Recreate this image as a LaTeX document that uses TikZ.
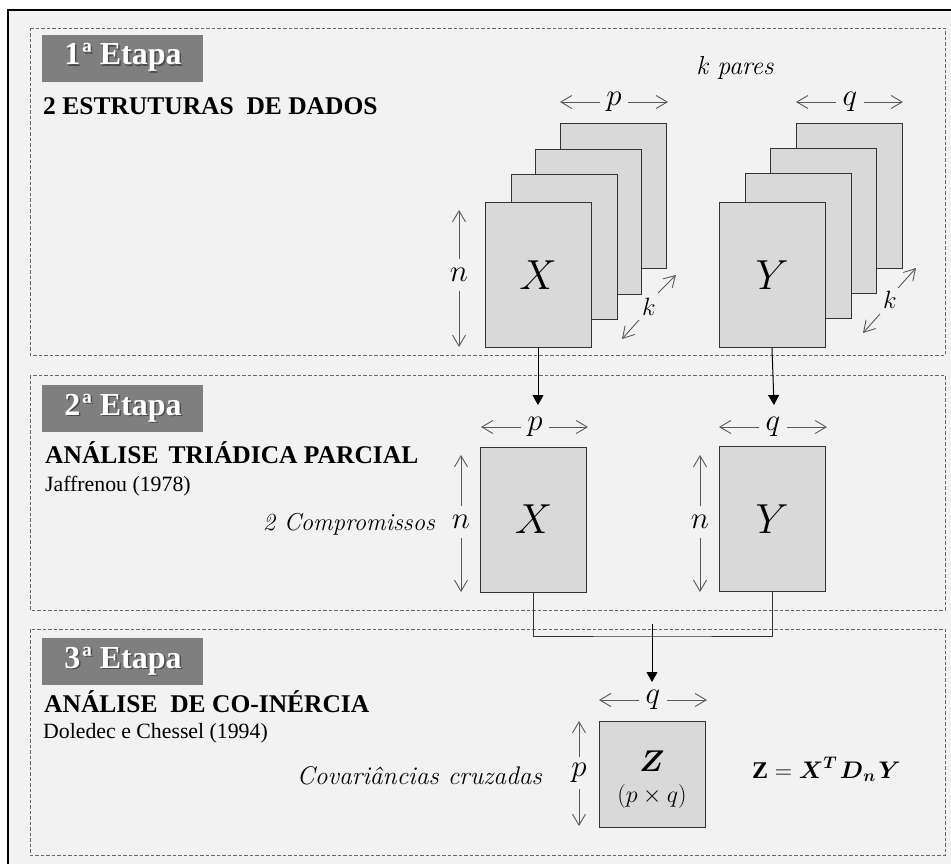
\RequirePackage{fix-cm}
\documentclass[tikz,border=0pt]{standalone}
\usepackage{amsmath}
\usepackage{fontspec}
\setmainfont{Liberation Serif}
\usetikzlibrary{arrows.meta}
\definecolor{bgc}{HTML}{F2F2F2}
\definecolor{matc}{HTML}{D9D9D9}
\definecolor{etc}{HTML}{7F7F7F}
\definecolor{dimc}{HTML}{595959}
\newcommand\itf{\fontfamily{lmr}\fontshape{it}\selectfont}
\newcommand\fsz[1]{\fontsize{#1}{#1}\selectfont}
\newcommand\shtxt[1]{\makebox[0pt][l]{\raisebox{-1.5pt}{\hspace{1.5pt}\color{black!70}#1}}\color{white}#1}
\begin{document}
\begin{tikzpicture}[x=1pt,y=-1pt,
  dbox/.style={draw=black!60, line width=0.9pt, dash pattern=on 3.5pt off 2pt},
  etapabox/.style={fill=etc, minimum width=161pt, minimum height=47pt, inner sep=0pt},
  etapatxt/.style={inner sep=0pt, font=\fsz{32}\bfseries},
  head/.style={anchor=base west, inner sep=0pt, font=\fsz{25.5}\bfseries},
  sub/.style={anchor=base west, inner sep=0pt, font=\fsz{21.8}},
  itlbl/.style={inner sep=0pt, font=\itf\fsz{25.5}},
  mat/.style={draw=black!80, fill=matc, line width=0.9pt, minimum width=106pt, minimum height=145pt, inner sep=0pt, font=\fsz{42}},
  dimlbl/.style={inner sep=0pt, minimum width=28pt, minimum height=32pt, font=\fsz{31}},
  klbl/.style={inner sep=0pt, font=\fsz{25}},
  dimarr/.style={draw=dimc, line width=0.9pt, -{Straight Barb[length=11pt,width=13pt,line width=0.9pt]}},
  flow/.style={draw=black, line width=1pt, -{Triangle[length=10pt,width=11pt]}},
  conn/.style={draw=black!80, line width=1pt}
]
\useasboundingbox (0,0) rectangle (951,864);
\fill[white] (0,0) rectangle (951,864);
\fill[bgc] (8,10) rectangle (951,864);
\draw[line width=1.3pt] (8,864) -- (8,10) -- (951,10);

% stage frames
\draw[dbox] (30,28) rectangle (945,355);
\draw[dbox] (30,375) rectangle (945,610);
\draw[dbox] (30,629) rectangle (945,855);

% etapa labels
\node[etapabox] (e1) at (122.5,58.5) {};
\node[etapatxt, anchor=base] (e1t) at (123,65) {\shtxt{1\kern2ptª Etapa}};
\node[etapabox] (e2) at (122.5,408.5) {};
\node[etapatxt, anchor=base] (e2t) at (123,415) {\shtxt{2\kern2ptª Etapa}};
\node[etapabox] (e3) at (122.5,661.5) {};
\node[etapatxt, anchor=base] (e3t) at (123,668) {\shtxt{3\kern2ptª Etapa}};

% headings
\node[head] (h1) at (43,115) {2 ESTRUTURAS \ DE DADOS};
\node[head] (h2) at (45,463) {ANÁLISE\hspace{0.4em}TRIÁDICA PARCIAL};
\node[sub] (s2) at (45,491) {Jaffrenou (1978)};
\node[head] (h3) at (44,712) {ANÁLISE \ DE CO-INÉRCIA};
\node[sub] (s3) at (43,738) {Doledec e Chessel (1994)};

% italic labels
\node[itlbl, anchor=base, font=\itf\fsz{26}] (kp) at (735,75) {k pares};
\node[itlbl, anchor=base east, font=\itf\fsz{24.5}] (comp) at (435,530) {2 Compromissos};
\node[itlbl, anchor=base east] (cov) at (542,784) {Covariâncias cruzadas};

% stage 1 stacks
\node[mat] (X1d) at (613.5,196) {};
\node[mat] (X1c) at (588,221.5) {};
\node[mat] (X1b) at (564,246.5) {};
\node[mat] (X1) at (538,275) {$X$};
\node[mat] (Y1d) at (849,196) {};
\node[mat] (Y1c) at (823,221) {};
\node[mat] (Y1b) at (798,246) {};
\node[mat] (Y1) at (772,275) {$Y$};

% stage 1 dimensions
\node[dimlbl] (p1) at (614,102) {$p$};
\coordinate (p1l) at (560,102); \coordinate (p1r) at (668,102);
\draw[dimarr] (p1.west) -- (p1l); \draw[dimarr] (p1.east) -- (p1r);
\node[dimlbl] (q1) at (850,102) {$q$};
\coordinate (q1l) at (796,102); \coordinate (q1r) at (903,102);
\draw[dimarr] (q1.west) -- (q1l); \draw[dimarr] (q1.east) -- (q1r);
\node[dimlbl] (n1) at (459,275) {$n$};
\coordinate (n1t) at (459,210); \coordinate (n1b) at (459,347);
\draw[dimarr] (n1.north) -- (n1t); \draw[dimarr] (n1.south) -- (n1b);

\node[klbl] (k1) at (649,307) {$k$};
\coordinate (k1a) at (658,293); \coordinate (k1at) at (676,275);
\coordinate (k1b) at (639,320); \coordinate (k1bt) at (622,339);
\draw[dimarr] (k1a) -- (k1at); \draw[dimarr] (k1b) -- (k1bt);
\node[klbl] (k2) at (890,300) {$k$};
\coordinate (k2a) at (898,288); \coordinate (k2at) at (916,268);
\coordinate (k2b) at (880,314); \coordinate (k2bt) at (863,333);
\draw[dimarr] (k2a) -- (k2at); \draw[dimarr] (k2b) -- (k2bt);

% stage 2
\node[mat] (X2) at (533.5,519.5) {$X$};
\node[mat] (Y2) at (772,519) {$Y$};
\node[dimlbl] (p2) at (535,427) {$p$};
\coordinate (p2l) at (481,427); \coordinate (p2r) at (588,427);
\draw[dimarr] (p2.west) -- (p2l); \draw[dimarr] (p2.east) -- (p2r);
\node[dimlbl] (q2) at (773,427) {$q$};
\coordinate (q2l) at (719,427); \coordinate (q2r) at (827,427);
\draw[dimarr] (q2.west) -- (q2l); \draw[dimarr] (q2.east) -- (q2r);
\node[dimlbl] (n2) at (461,522) {$n$};
\coordinate (n2t) at (461,455); \coordinate (n2b) at (461,592);
\draw[dimarr] (n2.north) -- (n2t); \draw[dimarr] (n2.south) -- (n2b);
\node[dimlbl] (n3) at (700,522) {$n$};
\coordinate (n3t) at (700,455); \coordinate (n3b) at (700,592);
\draw[dimarr] (n3.north) -- (n3t); \draw[dimarr] (n3.south) -- (n3b);

% flow 1 -> 2
\coordinate (tX) at (538,405); \coordinate (tY) at (774,405);
\draw[flow] (X1.south) -- (tX);
\draw[flow] (Y1.south) -- (tY);

% stage 3
\node[mat, minimum height=106pt] (Zb) at (652,774) {};
\node[inner sep=0pt, font=\fsz{30}] (Zl) at (652,761) {$\boldsymbol{Z}$};
\node[inner sep=0pt, font=\fsz{24}] (Zd) at (652,796) {$(p\times q)$};
\node[dimlbl] (q3) at (653,700) {$q$};
\coordinate (q3l) at (599,700); \coordinate (q3r) at (707,700);
\draw[dimarr] (q3.west) -- (q3l); \draw[dimarr] (q3.east) -- (q3r);
\node[dimlbl] (p3) at (579,773) {$p$};
\coordinate (p3t) at (579,721); \coordinate (p3b) at (579,826);
\draw[dimarr] (p3.north) -- (p3t); \draw[dimarr] (p3.south) -- (p3b);
\node[anchor=base west, inner sep=0pt, font=\fsz{24}] (form) at (752,778)
  {$\mathbf{Z}=\boldsymbol{X}^{\boldsymbol{T}}\mkern2mu\boldsymbol{D}_{\boldsymbol{n}}\mkern2mu\boldsymbol{Y}$};

% flow 2 -> 3
\coordinate (jn) at (652,636);
\coordinate (js) at (652,624);
\coordinate (tZ) at (652,682);
\draw[conn] (X2.south) |- (jn) -| (Y2.south);
\draw[flow] (js) -- (tZ);
\end{tikzpicture}
\end{document}
